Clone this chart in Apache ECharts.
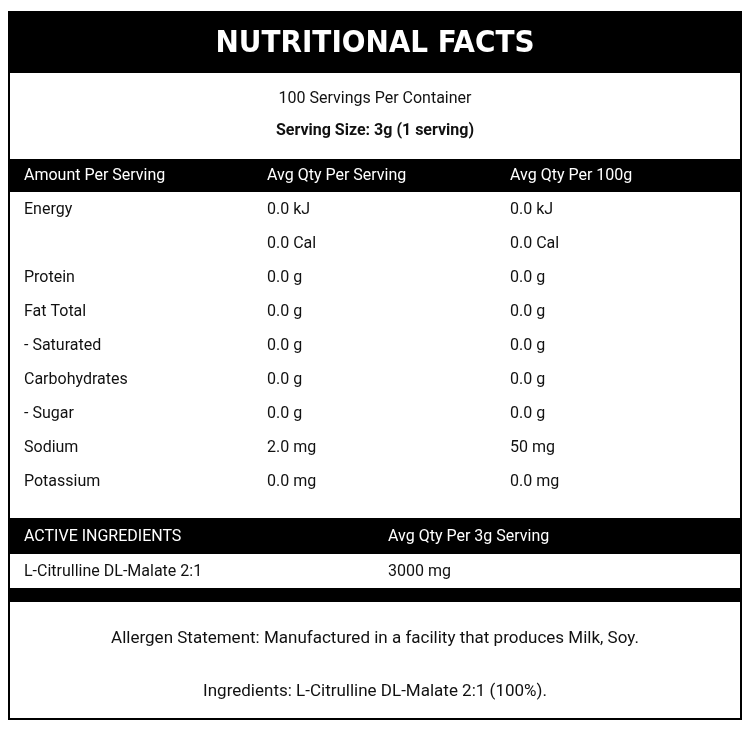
<!DOCTYPE html>
<html><head><meta charset="utf-8">
<script src="https://cdn.jsdelivr.net/npm/echarts@6/dist/echarts.min.js"></script>
<style>html,body{margin:0;padding:0;background:#fff}#c{width:752px;height:732px}</style>
</head><body><div id="c"></div>
<script>
const title = "NUTRITIONAL FACTS";
const servingsLine = "100 Servings Per Container";
const servingSize = "Serving Size: 3g (1 serving)";
const headers = ["Amount Per Serving", "Avg Qty Per Serving", "Avg Qty Per 100g"];
const nutrients = ["Energy", "", "Protein", "Fat Total", "- Saturated", "Carbohydrates", "- Sugar", "Sodium", "Potassium"];
const perServing = ["0.0 kJ", "0.0 Cal", "0.0 g", "0.0 g", "0.0 g", "0.0 g", "0.0 g", "2.0 mg", "0.0 mg"];
const per100g = ["0.0 kJ", "0.0 Cal", "0.0 g", "0.0 g", "0.0 g", "0.0 g", "0.0 g", "50 mg", "0.0 mg"];
const activeHeaders = ["ACTIVE INGREDIENTS", "Avg Qty Per 3g Serving"];
const activeNames = ["L-Citrulline DL-Malate 2:1"];
const activeQty = ["3000 mg"];
const allergen = "Allergen Statement: Manufactured in a facility that produces Milk, Soy.";
const ingredients = "Ingredients: L-Citrulline DL-Malate 2:1 (100%).";

const F = "Roboto, 'Noto Sans', sans-serif";
const els = [];
function rect(x,y,w,h,fill){els.push({type:'rect',shape:{x,y,width:w,height:h},style:{fill}});}
function txt(x,y,t,o={}){els.push({type:'text',x,y,style:Object.assign({text:t,fill:'#111',font:`${o.w||'normal'} ${o.s||16}px ${o.f||F}`,textAlign:o.a||'left',textVerticalAlign:'middle'},o.fill?{fill:o.fill}:{} )});}

rect(8,11,734,62,'#000');
txt(375,44,title,{a:'center',s:31,w:'bold',f:"'DejaVu Sans Condensed', 'Liberation Sans Narrow', sans-serif",fill:'#fff'});
txt(375,99,servingsLine,{a:'center'});
txt(375,131,servingSize,{a:'center',w:'bold'});
rect(8,159,734,33,'#000');
const cx=[24,267,510];
headers.forEach((h,i)=>txt(cx[i],176,h,{fill:'#fff'}));
nutrients.forEach((n,i)=>{const y=210+i*34.0;txt(cx[0],y,n);txt(cx[1],y,perServing[i]);txt(cx[2],y,per100g[i]);});
rect(8,518,734,36,'#000');
txt(24,537,activeHeaders[0],{fill:'#fff'});
txt(388,537,activeHeaders[1],{fill:'#fff'});
activeNames.forEach((n,i)=>{const y=572+i*34;txt(24,y,n);txt(388,y,activeQty[i]);});
rect(8,588,734,14,'#000');
txt(375,639,allergen,{a:'center',s:17});
txt(375,692,ingredients,{a:'center',s:17});
els.push({type:'rect',shape:{x:9,y:12,width:732,height:707},style:{fill:'none',stroke:'#000',lineWidth:2}});

const chart = echarts.init(document.getElementById('c'));
chart.setOption({animation:false,graphic:{elements:els}});
</script></body></html>
